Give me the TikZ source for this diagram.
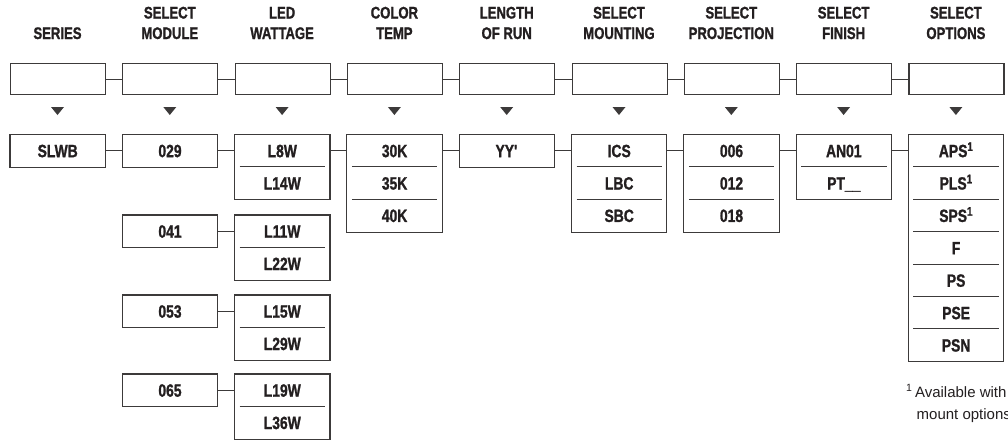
\documentclass[tikz,border=0pt]{standalone}
\usepackage{fontspec}
\setmainfont{Liberation Sans}
\newfontfamily\condfont[FakeStretch=0.78, BoldFeatures={FakeBold=1.2}]{Liberation Sans}
\definecolor{inkc}{RGB}{35,31,32}
\definecolor{boxc}{RGB}{60,58,58}
\begin{document}
\begin{tikzpicture}[x=1pt,y=-1pt,
  hdr/.style={font=\condfont\bfseries\fontsize{16.8}{20}\selectfont, text=inkc, anchor=base, inner sep=0},
  blank/.style={draw=boxc, line width=1.1pt, minimum width=95pt, minimum height=31pt, inner sep=0, anchor=north west},
  item/.style={minimum width=95pt, minimum height=32.4pt, text height=12.5pt, text depth=0pt, inner sep=0, anchor=north west, text=inkc, font=\condfont\bfseries\fontsize{17.8}{20}\selectfont},
  frame/.style={draw=boxc, line width=1.1pt},
  divider/.style={draw=boxc, line width=0.9pt},
  link/.style={draw=boxc, line width=1pt},
  foot/.style={font=\fontsize{15}{20}\selectfont, text=inkc, anchor=base west, inner sep=0}]
\clip (0,0) rectangle (1008,440);
\useasboundingbox (0,0) rectangle (1008,440);
% headers
\node[hdr] (h0b) at ({10+47.5},39) {SERIES};
\foreach \i/\ta/\tb in {1/SELECT/MODULE,2/LED/WATTAGE,3/COLOR/TEMP,4/LENGTH/OF RUN,5/SELECT/MOUNTING,6/SELECT/PROJECTION,7/SELECT/FINISH,8/SELECT/OPTIONS}{
  \node[hdr] (h\i a) at ({10+112.3*\i+47.5},18.5) {\ta};
  \node[hdr] (h\i b) at ({10+112.3*\i+47.5},39) {\tb};
}
% blank boxes and arrows
\foreach \i in {0,...,8}{
  \node[blank] (b\i) at ({10+112.3*\i},63) {};
  \coordinate (tip\i) at ({10+112.3*\i+47.5},115);
  \fill[boxc] (tip\i) -- ++(-6.5,-8) -- ++(13,0) -- cycle;
}
\foreach \i [evaluate=\i as \j using int(\i+1)] in {0,...,7}{
  \draw[link] (b\i.east) -- (b\j.west);
}
% main option columns
\foreach \i/\items in {0/{SLWB},1/{029},2/{L8W,L14W},3/{30K,35K,40K},4/{YY\textquotesingle},5/{ICS,LBC,SBC},6/{006,012,018},7/{AN01,PT\_\_},8/{APS\textsuperscript{1},PLS\textsuperscript{1},SPS\textsuperscript{1},F,PS,PSE,PSN}}{
  \foreach \t [count=\k] in \items {
    \node[item] (c\i r\k) at ({10+112.3*\i},{134.5+32.4*(\k-1)}) {\t};
    \ifnum\k>1
      \draw[divider] ([xshift=5pt]c\i r\k.north west) -- ([xshift=-5pt]c\i r\k.north east);
    \fi
    \xdef\lastk{\k}
  }
  \draw[frame] (c\i r1.north west) rectangle (c\i r\lastk.south east);
}
\foreach \i [evaluate=\i as \j using int(\i+1)] in {0,...,7}{
  \draw[link] (c\i r1.east) -- (c\j r1.west);
}
% further modules
\foreach \g/\top/\m/\wa/\wb in {1/215/041/L11W/L22W,2/295/053/L15W/L29W,3/374/065/L19W/L36W}{
  \node[item] (mod\g) at (122.3,\top) {\m};
  \draw[frame] (mod\g.north west) rectangle (mod\g.south east);
  \node[item] (led\g a) at (234.6,\top) {\wa};
  \node[item] (led\g b) at (234.6,{\top+32.4}) {\wb};
  \draw[divider] ([xshift=5pt]led\g b.north west) -- ([xshift=-5pt]led\g b.north east);
  \draw[frame] (led\g a.north west) rectangle (led\g b.south east);
  \draw[link] (mod\g.east) -- (led\g a.west);
}
% footnote
\node[foot] (fn1) at (906,397) {\textsuperscript{1}\,Available with};
\node[foot] (fn2) at (916.5,419) {mount options};
\end{tikzpicture}
\end{document}
